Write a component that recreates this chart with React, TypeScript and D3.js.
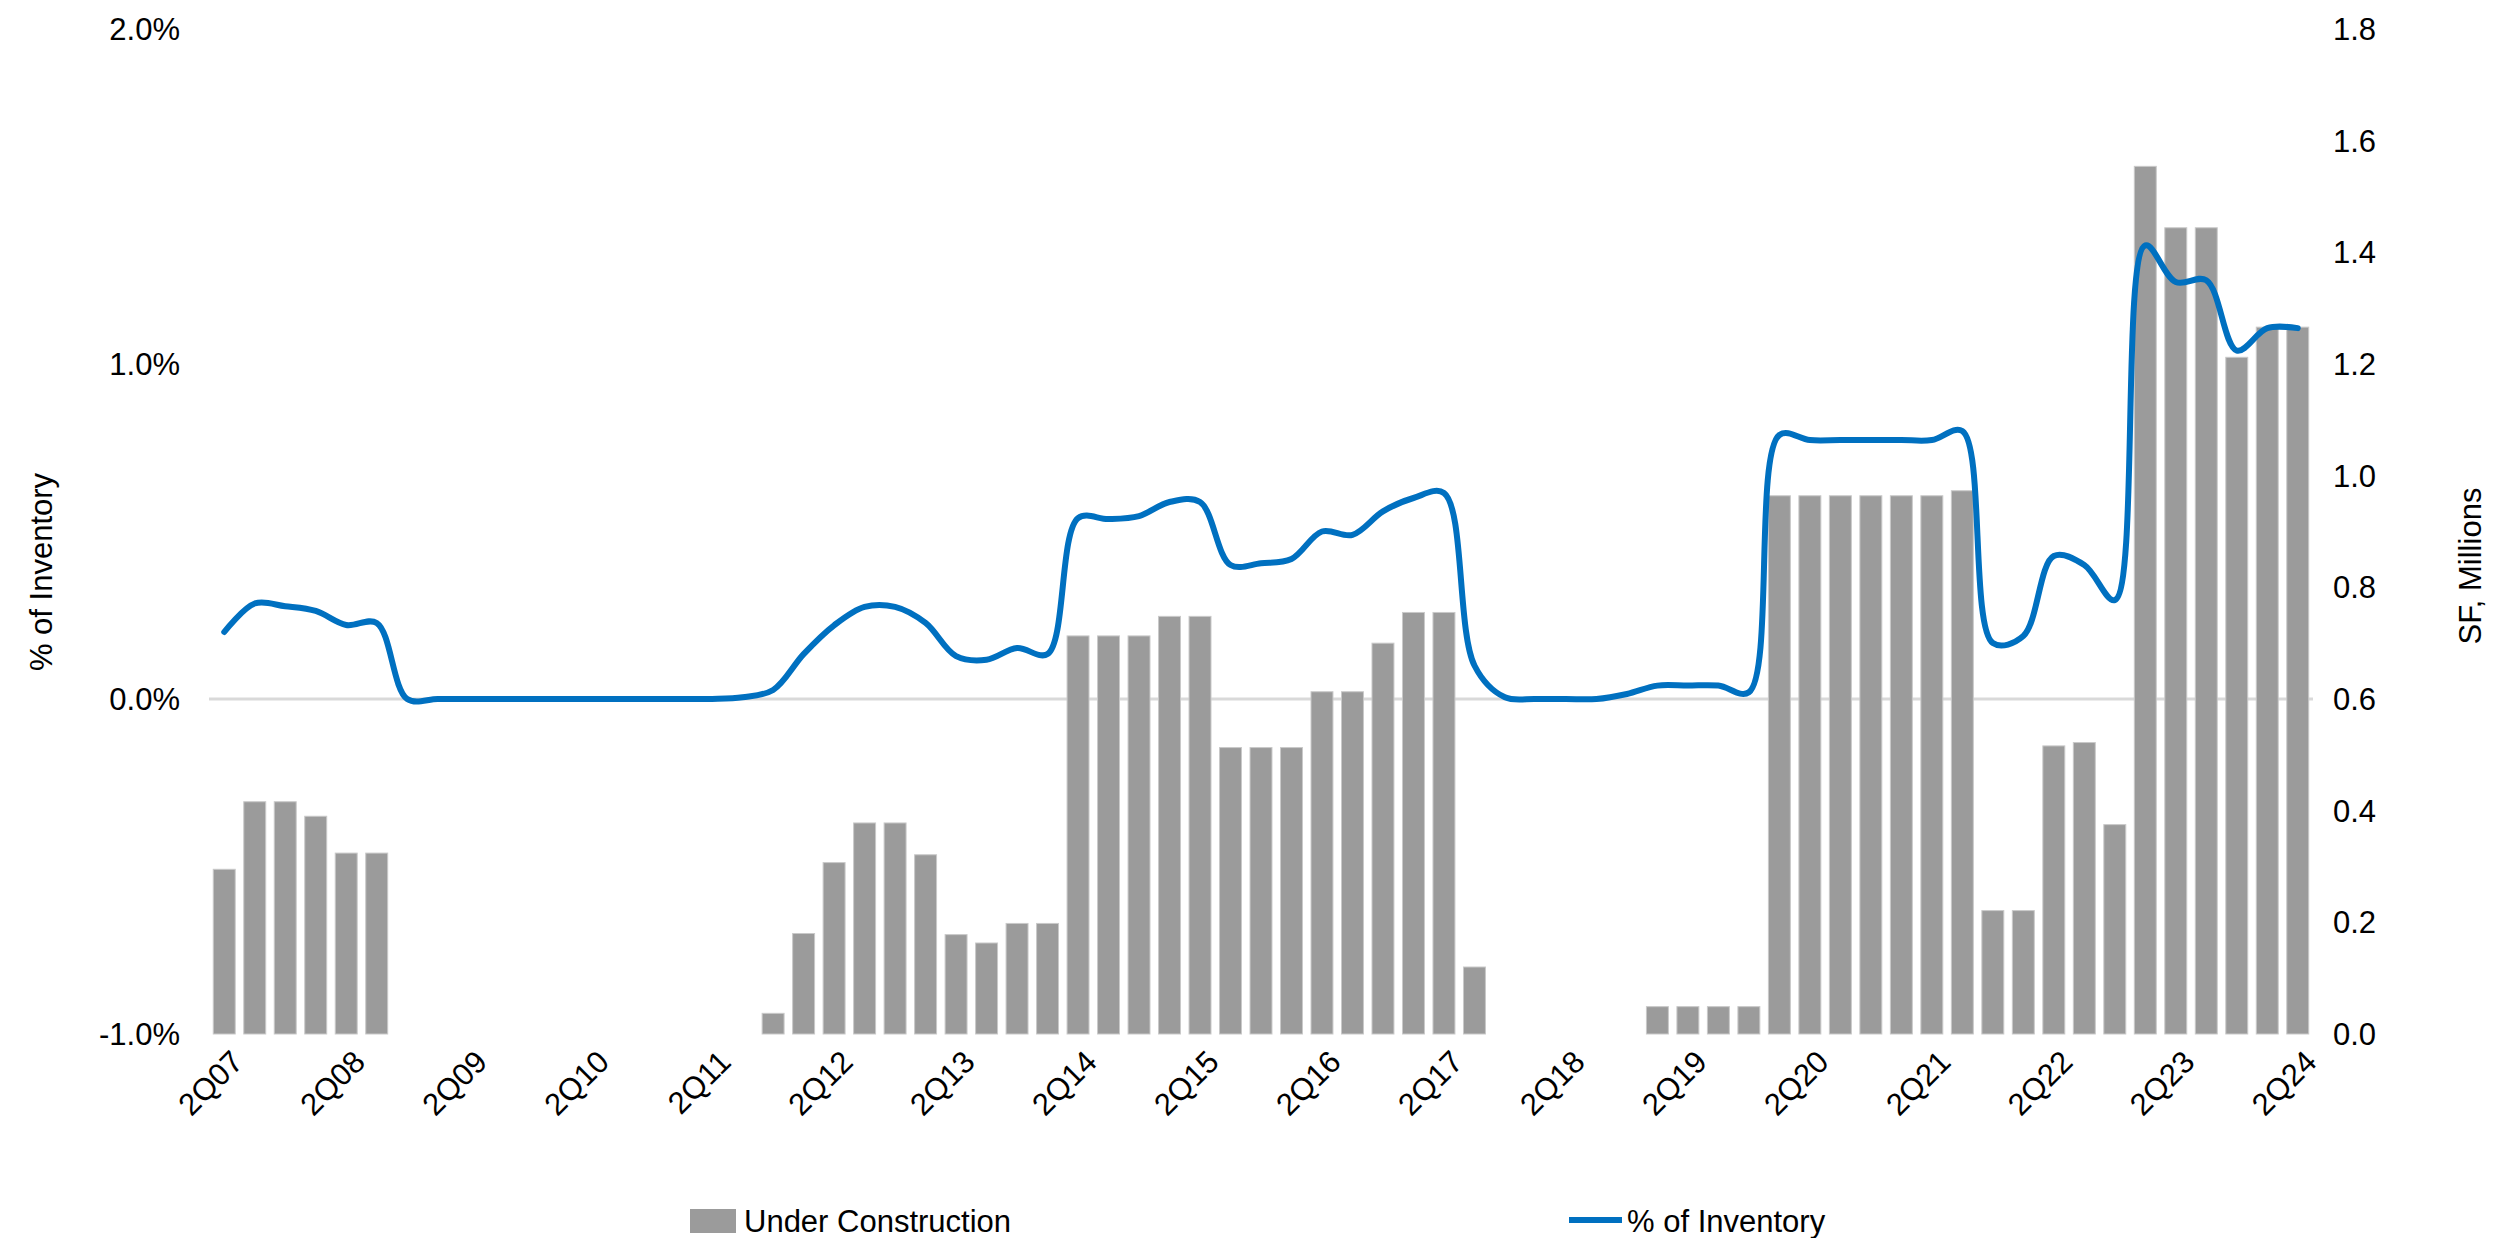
import * as d3 from "d3";

const W = 2511;
const H = 1238;
const m = { top: 29, right: 198, bottom: 204, left: 209 };

// quarters 2Q07 .. 2Q24
const QUARTERS: string[] = [];
for (let y = 7; y <= 24; y++) {
  for (let q = 1; q <= 4; q++) {
    if ((y === 7 && q < 2) || (y === 24 && q > 2)) continue;
    QUARTERS.push(`${q}Q${String(y).padStart(2, "0")}`);
  }
}

// Under Construction, SF millions (right axis)
const UNDER_CONSTRUCTION = [
  0.295, 0.416, 0.416, 0.39, 0.324, 0.324, 0, 0, 0, 0, 0, 0, 0, 0, 0, 0, 0, 0,
  0.037, 0.18, 0.307, 0.378, 0.378, 0.321, 0.178, 0.163, 0.198, 0.198, 0.713,
  0.713, 0.713, 0.748, 0.748, 0.513, 0.513, 0.513, 0.613, 0.613, 0.7, 0.755,
  0.755, 0.12, 0, 0, 0, 0, 0, 0.049, 0.049, 0.049, 0.049, 0.964, 0.964, 0.964,
  0.964, 0.964, 0.964, 0.973, 0.221, 0.221, 0.516, 0.522, 0.375, 1.554, 1.444,
  1.444, 1.212, 1.266, 1.266,
];

// % of Inventory (left axis, percent)
const PCT_INVENTORY = [
  0.2, 0.285, 0.277, 0.263, 0.221, 0.227, 0, 0, 0, 0, 0, 0, 0, 0, 0, 0, 0, 0.005,
  0.027, 0.134, 0.22, 0.275, 0.275, 0.227, 0.128, 0.117, 0.152, 0.134, 0.54,
  0.537, 0.546, 0.588, 0.588, 0.4, 0.405, 0.418, 0.5, 0.49, 0.56, 0.6, 0.615,
  0.1, 0.005, 0, 0, 0, 0.015, 0.04, 0.04, 0.04, 0.02, 0.788, 0.773, 0.773,
  0.773, 0.773, 0.773, 0.8, 0.167, 0.188, 0.427, 0.4, 0.295, 1.354, 1.245,
  1.25, 1.04, 1.107, 1.107,
];

const LEFT_TICKS = [-1, 0, 1, 2];
const RIGHT_TICKS = [0, 0.2, 0.4, 0.6, 0.8, 1.0, 1.2, 1.4, 1.6, 1.8];
const X_LABELS = QUARTERS.filter((q) => q.startsWith("2Q"));

const FONT = "'Liberation Sans', Arial, sans-serif";
const FS = 31;
const pct = (v: number) => v.toFixed(1) + "%";

export default function App() {
  const x = d3
    .scaleBand<string>()
    .domain(QUARTERS)
    .range([m.left, W - m.right])
    .paddingInner(0.28)
    .paddingOuter(0.14);
  const yL = d3.scaleLinear().domain([-1, 2]).range([H - m.bottom, m.top]);
  const yR = d3.scaleLinear().domain([0, 1.8]).range([H - m.bottom, m.top]);
  const cx = (q: string) => x(q)! + x.bandwidth() / 2;

  const line = d3
    .line<number>()
    .x((_, i) => cx(QUARTERS[i]))
    .y((d) => yL(d))
    .curve(d3.curveCatmullRom.alpha(0.5));

  return (
    <svg
      width={W}
      height={H}
      style={{ position: "absolute", left: 0, top: 0, background: "#fff" }}
      fontFamily={FONT}
    >
      {/* zero line */}
      <line x1={m.left} x2={W - m.right} y1={yL(0)} y2={yL(0)} stroke="#d9d9d9" strokeWidth={3} />

      {/* bars */}
      {QUARTERS.map((q, i) =>
        UNDER_CONSTRUCTION[i] > 0 ? (
          <rect
            key={q}
            x={x(q)}
            y={yR(UNDER_CONSTRUCTION[i])}
            width={x.bandwidth()}
            height={yR(0) - yR(UNDER_CONSTRUCTION[i])}
            fill="#9b9b9b"
            stroke="#c9c9c9"
            strokeWidth={1}
          />
        ) : null
      )}

      {/* line */}
      <path d={line(PCT_INVENTORY)!} fill="none" stroke="#0070c0" strokeWidth={6} strokeLinecap="round" strokeLinejoin="round" />

      {/* left axis */}
      {LEFT_TICKS.map((t) => (
        <text key={t} x={180} y={yL(t)} dy="0.35em" textAnchor="end" fontSize={FS} fill="#000">
          {pct(t)}
        </text>
      ))}
      <text transform={`translate(52,572) rotate(-90)`} textAnchor="middle" fontSize={FS} fill="#000">
        % of Inventory
      </text>

      {/* right axis */}
      {RIGHT_TICKS.map((t) => (
        <text key={t} x={2333} y={yR(t)} dy="0.35em" textAnchor="start" fontSize={FS} fill="#000">
          {t.toFixed(1)}
        </text>
      ))}
      <text transform={`translate(2481,566) rotate(-90)`} textAnchor="middle" fontSize={FS} fill="#000">
        SF, Millions
      </text>

      {/* x axis labels */}
      {X_LABELS.map((q) => (
        <text
          key={q}
          transform={`translate(${cx(q) + 13},${yL(-1) + 22}) rotate(-45)`}
          textAnchor="end"
          dy="0.35em"
          fontSize={FS}
          fill="#000"
        >
          {q}
        </text>
      ))}

      {/* legend */}
      <rect x={690} y={1209} width={46} height={24} fill="#9b9b9b" />
      <text x={744} y={1221} dy="0.35em" fontSize={FS} fill="#000">
        Under Construction
      </text>
      <line x1={1569} x2={1622} y1={1220} y2={1220} stroke="#0070c0" strokeWidth={6} />
      <text x={1627} y={1221} dy="0.35em" fontSize={FS} fill="#000">
        % of Inventory
      </text>
    </svg>
  );
}
